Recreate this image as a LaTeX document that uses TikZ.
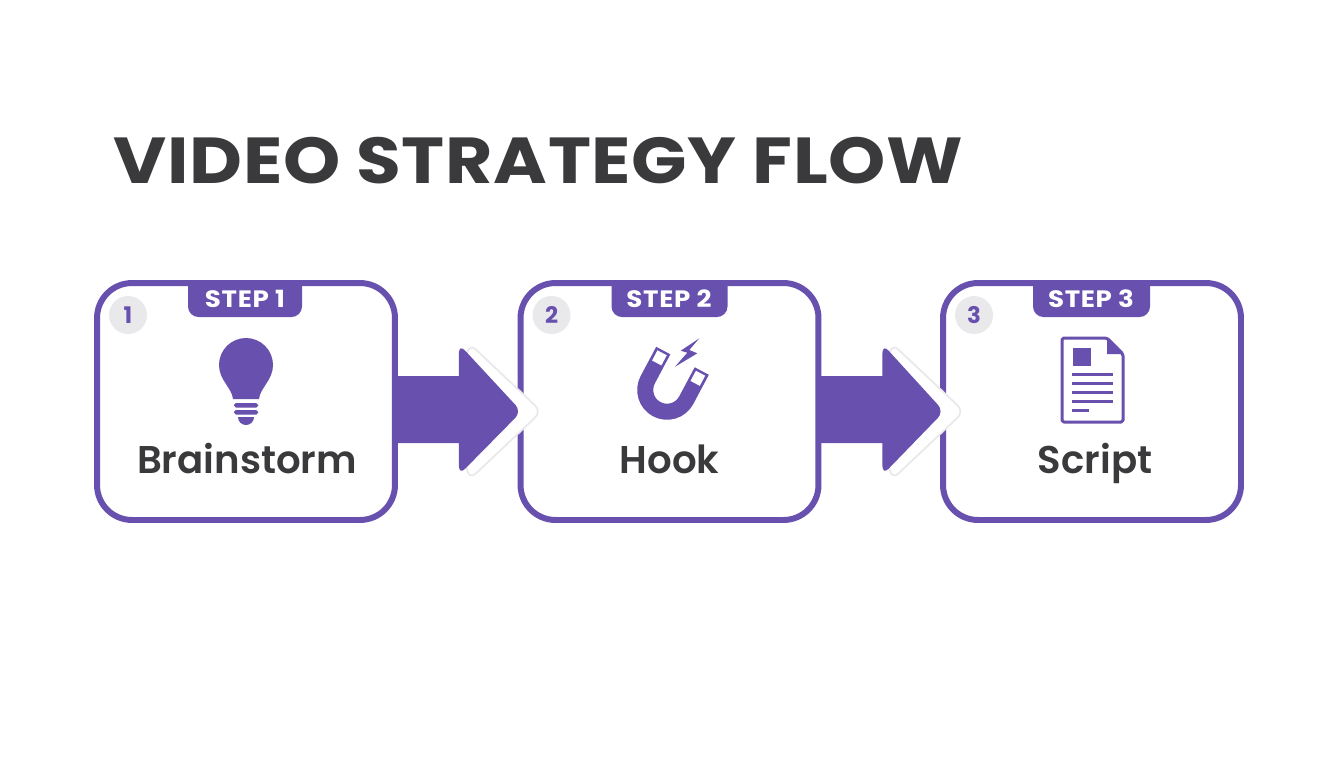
\documentclass[tikz,border=0pt]{standalone}
\usepackage{fontspec}
\setmainfont{Poppins}
\newfontfamily\flowsemi{Poppins SemiBold}
\usetikzlibrary{calc}

\definecolor{flowpurple}{HTML}{6750AE}
\definecolor{flowdark}{HTML}{3A3A3C}
\definecolor{flowgrey}{HTML}{E9E9EC}

\tikzset{
  stepbox/.style={draw=flowpurple, line width=3.4pt, fill=white, rounded corners=0.7cm,
    minimum width=5.96cm, minimum height=4.74cm, outer sep=0pt},
  steptab/.style={text=white, font=\bfseries\fontsize{13.5}{15}\selectfont\addfontfeatures{FakeStretch=1.1,LetterSpace=3}},
  numdot/.style={circle, fill=flowgrey, minimum size=0.76cm, inner sep=0pt, text=flowpurple,
    font=\bfseries\fontsize{13}{15}\selectfont},
  steplabel/.style={anchor=base, text=flowdark, font=\flowsemi\fontsize{22}{24}\selectfont},
  iconline/.style={draw=flowpurple, line width=1.7pt}
}

\begin{document}
\begin{tikzpicture}[x=0.02cm,y=-0.02cm]
\fill[white] (0,0) rectangle (1344,768);
\useasboundingbox (0,0) rectangle (1344,768);

% Titel
\node[anchor=center, text=flowdark, font=\bfseries\fontsize{37}{42}\selectfont\addfontfeatures{FakeStretch=1.12,LetterSpace=1}] (title) at (538.5,161) {VIDEO STRATEGY FLOW};

% Kaesten
\node[stepbox] (brain) at (246,401.5) {};
\node[stepbox] (hook) at (669.5,401.5) {};
\node[stepbox] (script) at (1092,401.5) {};

% Reiter oben
\fill[flowpurple] ($(brain.north)+(-58,0)$) [rounded corners=6pt] -- ++(0,34) -- ++(114,0) [sharp corners] -- ++(0,-34) -- cycle;
\fill[flowpurple] ($(hook.north)+(-58,0)$) [rounded corners=6pt] -- ++(0,34) -- ++(116,0) [sharp corners] -- ++(0,-34) -- cycle;
\fill[flowpurple] ($(script.north)+(-59,0)$) [rounded corners=6pt] -- ++(0,34) -- ++(117,0) [sharp corners] -- ++(0,-34) -- cycle;
\node[steptab] (tabbrain) at (245,298.5) {STEP 1};
\node[steptab] (tabhook) at (669,298.5) {STEP 2};
\node[steptab] (tabscript) at (1091,298.5) {STEP 3};

% Nummern
\node[numdot] (numbrain) at ($(brain.north west)+(31,32)$) {1};
\node[numdot] (numhook) at ($(hook.north west)+(31,32)$) {2};
\node[numdot] (numscript) at ($(script.north west)+(31,32)$) {3};

% Beschriftung
\node[steplabel] (labbrain) at ($(brain.center)+(1,71.5)$) {Brainstorm};
\node[steplabel] (labhook) at ($(hook.center)+(0,71.5)$) {Hook};
\node[steplabel] (labscript) at ($(script.center)+(3,71.5)$) {Script};

% Pfeile mit hellem Rand dahinter
\coordinate (tipa) at ($(hook.west)+(1,10)$);
\coordinate (tipb) at ($(script.west)+(1,10)$);
\filldraw[white, draw=flowgrey, line width=1pt, rounded corners=5pt] (tipa) ++(-52,-68) -- ++(72,68) -- ++(-72,68) -- ++(-6,-24) -- ++(0,-88) -- cycle;
\filldraw[white, draw=flowgrey, line width=1pt, rounded corners=5pt] (tipb) ++(-52,-68) -- ++(72,68) -- ++(-72,68) -- ++(-6,-24) -- ++(0,-88) -- cycle;
\fill[flowpurple] ($(brain.east)+(0,-25.5)$) -- ++(64,0) [rounded corners=5pt] -- ++(0,-32) -- (tipa) -- ($(brain.east)+(64,73.5)$) [sharp corners] -- ++(0,-32) -- ++(-64,0) -- cycle;
\fill[flowpurple] ($(hook.east)+(0,-25.5)$) -- ++(64,0) [rounded corners=5pt] -- ++(0,-32) -- (tipb) -- ($(hook.east)+(64,73.5)$) [sharp corners] -- ++(0,-32) -- ++(-64,0) -- cycle;

% Gluehbirne
\fill[flowpurple] (233,399) .. controls (232,388) and (219,380) .. (219,365) arc[start angle=180, end angle=360, radius=27] .. controls (273,380) and (260,388) .. (259,399) -- cycle;
\fill[flowpurple, rounded corners=1pt] (234,403) rectangle (258,407.5);
\fill[flowpurple, rounded corners=1pt] (234,410) rectangle (258,414.5);
\fill[flowpurple] (238,417) -- (254,417) arc[start angle=0, end angle=180, radius=8] -- cycle;

% Magnet
\begin{scope}[shift={(682.5,360.8)}, rotate=-28]
\draw[flowpurple, line width=9.1pt] (-21.8,0) -- (-21.8,33) arc[start angle=180, end angle=0, radius=21.8] -- (21.8,0);
\fill[white] (-27,2.5) rectangle (-16.5,14);
\fill[white] (16.5,2.5) rectangle (27,14);
\end{scope}
\fill[flowpurple] (699.3,338.3) -- (680.7,350.7) -- (687.3,352.7) -- (675,366.7) -- (697.3,353.3) -- (689.3,350) -- cycle;

% Dokument
\draw[iconline, line join=round, rounded corners=1pt] (1062,338) -- (1107,338) -- (1123,354) -- (1123,422) -- (1062,422) -- cycle;
\fill[flowpurple] (1107,338) -- (1123,354) -- (1107,354) -- cycle;
\fill[flowpurple] (1073,348) rectangle (1091,366);
\draw[iconline] (1072,374) -- (1113,374);
\draw[iconline] (1072,383) -- (1113,383);
\draw[iconline] (1072,392) -- (1113,392);
\draw[iconline] (1072,401) -- (1113,401);
\draw[iconline] (1072,410) -- (1089,410);
\end{tikzpicture}
\end{document}
